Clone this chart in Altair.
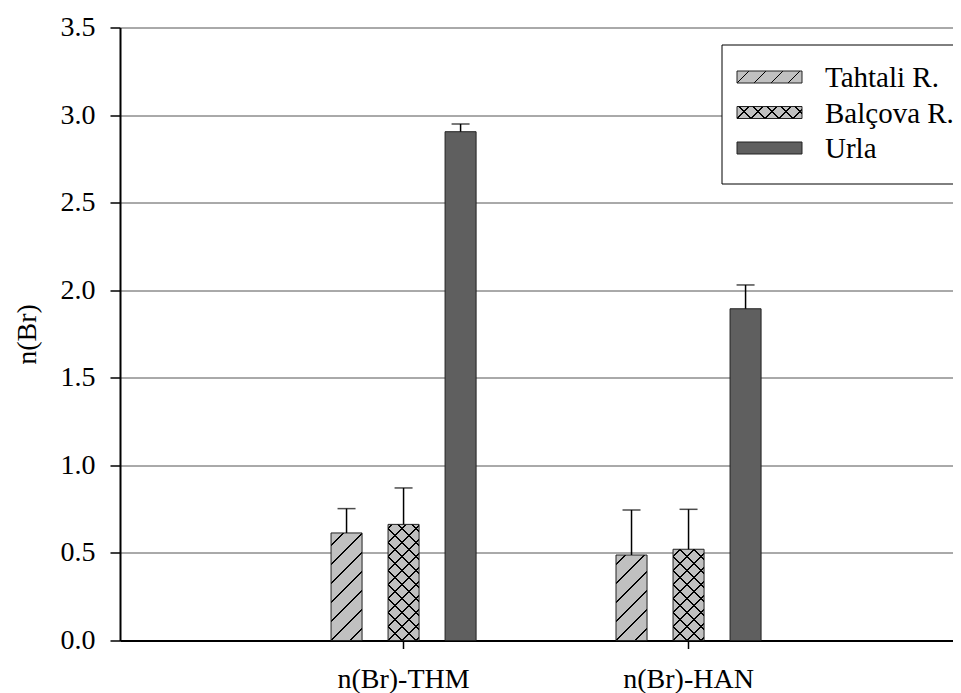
import json
import altair as alt
import pandas as pd

# ---------------- data ----------------
categories = ["n(Br)-THM", "n(Br)-HAN"]
series = ["Tahtali R.", "Balçova R.", "Urla"]
thm_mean = [0.614, 0.663, 2.905]
thm_err = [0.139, 0.208, 0.044]
han_mean = [0.488, 0.521, 1.894]
han_err = [0.257, 0.228, 0.136]
y_ticks = [0.0, 0.5, 1.0, 1.5, 2.0, 2.5, 3.0, 3.5]

means = {categories[0]: thm_mean, categories[1]: han_mean}
errs = {categories[0]: thm_err, categories[1]: han_err}
rows = []
for c in categories:
    for s, m, e in zip(series, means[c], errs[c]):
        rows.append({"cat": c, "series": s, "value": m, "err": e})
df = pd.DataFrame(rows)
df_leg = pd.DataFrame({"series": series})
df_box = pd.DataFrame({"k": [0]})

# ---------------- style / layout ----------------
FONT = "Liberation Serif"
LIGHT = "#c0c0c0"
DARK = "#5f5f5f"
CLEAR = "rgba(0,0,0,0)"
PLOT_W, PLOT_H, Y_MAX = 833, 613, 3.5
PX = PLOT_H / Y_MAX
XP_IN, XP_OUT, X_ALIGN, OFF_P_IN = 0.491, 0.707, 0.5237, 0.456
step = PLOT_W / (len(categories) - XP_IN + 2 * XP_OUT)
band = step * (1 - XP_IN)
BAR_W = band / (len(series) - OFF_P_IN) * (1 - OFF_P_IN)
PERIODS = [19, 14]
LEG_PERIODS = [17, 14]
SW_W, SW_H = 65, 12


def hatch(w, h, period, direction, bg, fg="#000000", half=0.9, phase=0.0):
    span = w + h
    m = span / (w * w + h * h)
    if direction == "/":
        x1, y1, x2, y2 = 0, 0, m * w, m * h
    else:
        x1, y1, x2, y2 = 1, 0, 1 - m * w, m * h
    stops = [{"offset": 0, "color": bg}]
    d = phase
    while d - half < span:
        a = max(0.0, (d - half) / span)
        b = min(1.0, (d + half) / span)
        if b > a:
            a, b = round(a, 5), round(b, 5)
            stops += [{"offset": a, "color": bg}, {"offset": a, "color": fg},
                      {"offset": b, "color": fg}, {"offset": b, "color": bg}]
        d += period
    stops.append({"offset": 1, "color": bg})
    return {"gradient": "linear", "x1": x1, "y1": y1, "x2": x2, "y2": y2, "stops": stops}


def q(s):
    return json.dumps(s, ensure_ascii=False)


bar_cond, ov_cond = [], []
for c in categories:
    for si in (0, 1):
        h = means[c][si] * PX
        p = PERIODS[si]
        bar_cond.append({"test": f"datum.cat === {q(c)} && datum.series === {q(series[si])}",
                         "value": hatch(BAR_W, h, p, "/", LIGHT, phase=h % p)})
    h = means[c][1] * PX
    p = PERIODS[1]
    ov_cond.append({"test": f"datum.cat === {q(c)} && datum.series === {q(series[1])}",
                    "value": hatch(BAR_W, h, p, "\\", CLEAR, phase=(h + BAR_W) % p)})

leg_cond = [{"test": f"datum.series === {q(series[si])}",
             "value": hatch(SW_W, SW_H, LEG_PERIODS[si], "/", LIGHT, phase=SW_H % LEG_PERIODS[si])}
            for si in (0, 1)]
leg_ov_cond = [{"test": f"datum.series === {q(series[1])}",
                "value": hatch(SW_W, SW_H, LEG_PERIODS[1], "\\", CLEAR,
                               phase=(SW_H + SW_W) % LEG_PERIODS[1])}]

x_enc = alt.X("cat:N", scale=alt.Scale(domain=categories, paddingInner=XP_IN,
                                       paddingOuter=XP_OUT, align=X_ALIGN),
              axis=alt.Axis(labelAngle=0, labelFontSize=28, tickSize=8, tickWidth=1.5,
                            tickColor="black", labelPadding=17, domainColor="black",
                            domainWidth=2, grid=False, labelColor="black", title=None))
xoff = alt.XOffset("series:N", scale=alt.Scale(domain=series, paddingInner=OFF_P_IN, paddingOuter=0))
y_enc = alt.Y("value:Q", scale=alt.Scale(domain=[0, Y_MAX], nice=False, zero=True),
              axis=alt.Axis(values=y_ticks, format=".1f", title="n(Br)", titleFontSize=28,
                            titleFontWeight="normal", titleColor="black", labelFontSize=28,
                            labelColor="black", tickSize=10, tickWidth=1.5, tickColor="black",
                            labelPadding=15, grid=True, gridColor="#555555", gridWidth=1,
                            domainColor="black", domainWidth=2, titleAngle=270,
                            titleX=-93, titleY=PLOT_H / 2, titleBaseline="middle",
                            titleAlign="center"))

base = alt.Chart(df)
bars = base.mark_bar(stroke="#222222", strokeWidth=1).encode(
    x=x_enc, xOffset=xoff, y=y_enc, fill=alt.value(DARK, condition=bar_cond))
overlay = base.mark_bar().encode(
    x=x_enc, xOffset=xoff, y=alt.Y("value:Q", title="n(Br)"),
    fill=alt.value(CLEAR, condition=ov_cond))
errs_base = base.transform_calculate(upper="datum.value + datum.err")
err_rule = errs_base.mark_rule(color="black", strokeWidth=1.5).encode(
    x=x_enc, xOffset=xoff, y=alt.Y("value:Q", title="n(Br)"), y2="upper:Q")
err_cap = errs_base.mark_tick(color="black", thickness=1.5, size=18).encode(
    x=x_enc, xOffset=xoff, y=alt.Y("upper:Q", title="n(Br)"))

box = alt.Chart(df_box).mark_rect(fill="white", stroke="black", strokeWidth=1).encode(
    x=alt.value(602), x2=alt.value(PLOT_W + 30), y=alt.value(17.5), y2=alt.value(156.5))

leg = alt.Chart(df_leg).transform_calculate(
    idx=f"indexof({q(series)}, datum.series)"
).transform_calculate(
    sy0="43.5 + 35.5 * datum.idx", sy1="55.5 + 35.5 * datum.idx", ty="59.5 + 35.5 * datum.idx")
swatch = leg.mark_rect(stroke="#222222", strokeWidth=1).encode(
    x=alt.value(617), x2=alt.value(617 + SW_W),
    y=alt.Y("sy0:Q", scale=None, axis=None), y2="sy1:Q",
    fill=alt.value(DARK, condition=leg_cond))
swatch_ov = leg.mark_rect().encode(
    x=alt.value(617), x2=alt.value(617 + SW_W),
    y=alt.Y("sy0:Q", scale=None, axis=None), y2="sy1:Q",
    fill=alt.value(CLEAR, condition=leg_ov_cond))
leg_text = leg.mark_text(align="left", baseline="alphabetic", font=FONT, fontSize=29,
                         color="black").encode(
    x=alt.value(705), y=alt.Y("ty:Q", scale=None, axis=None), text="series:N")

chart = alt.layer(bars, overlay, err_rule, err_cap, box, swatch, swatch_ov, leg_text).properties(
    width=PLOT_W, height=PLOT_H,
    autosize=alt.AutoSizeParams(type="none"),
    padding={"left": 112, "top": 19.5, "right": 0, "bottom": 58},
    background="white",
).configure_view(stroke=None).configure_axis(labelFont=FONT, titleFont=FONT)

chart.save("out.html", embed_options={"renderer": "svg", "actions": False})
